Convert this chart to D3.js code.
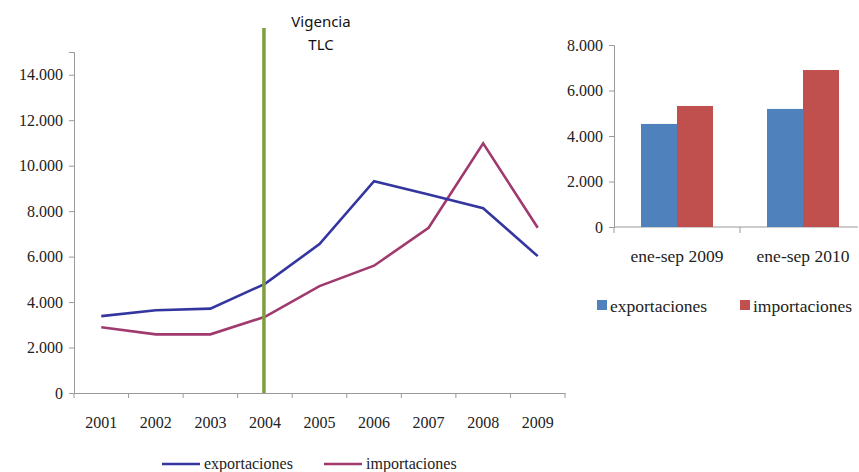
<!DOCTYPE html>
<html>
<head>
<meta charset="utf-8">
<script src="https://cdn.jsdelivr.net/npm/d3@7"></script>
<style>
  body { margin: 0; background: #fff; }
  svg { display: block; }
  .serif { font-family: "Liberation Serif"; font-size: 16px; }
  .serif-lg { font-family: "Liberation Serif"; font-size: 17.5px; }
  .sans { font-family: "Noto Sans"; font-size: 15px; }
</style>
</head>
<body>
<div id="chart"></div>
<script>
// line chart data
const years = ['2001', '2002', '2003', '2004', '2005', '2006', '2007', '2008', '2009'];
const exportaciones = [3380, 3640, 3710, 4800, 6550, 9320, 8730, 8130, 6020];
const importaciones = [2890, 2580, 2580, 3350, 4700, 5600, 7270, 10980, 7270];
const lineTicks = [0, 2000, 4000, 6000, 8000, 10000, 12000, 14000];
const markerYear = '2004';

// bar chart data
const periods = ['ene-sep 2009', 'ene-sep 2010'];
const barExport = [4530, 5190];
const barImport = [5320, 6900];
const barTicks = [0, 2000, 4000, 6000, 8000];

const W = 859, H = 472;
const fmt = d => d3.format(',')(d).replace(/,/g, '.');
const axisColor = '#9a9a9a';

const svg = d3.select('#chart').append('svg')
    .attr('width', W).attr('height', H);

// ---- left: line chart ----
const lx = d3.scaleBand().domain(years).range([74, 565]);
const ly = d3.scaleLinear().domain([0, 15000]).range([393, 52]);

const gLeft = svg.append('g');

const yAxisL = gLeft.append('g')
    .attr('transform', 'translate(74,0)')
    .call(d3.axisLeft(ly).tickValues(lineTicks).tickSize(5).tickPadding(6).tickFormat(fmt));

const xAxisL = gLeft.append('g')
    .attr('transform', 'translate(0,393)')
    .call(d3.axisBottom(lx).tickSize(0).tickPadding(24));

// category boundary ticks
xAxisL.selectAll('.bound').data(d3.range(years.length + 1)).enter().append('line')
    .attr('class', 'bound')
    .attr('x1', i => lx.range()[0] + i * lx.step())
    .attr('x2', i => lx.range()[0] + i * lx.step())
    .attr('y1', 0).attr('y2', 5)
    .attr('stroke', axisColor);

function styleAxis(a) {
    a.attr('font-family', null).attr('font-size', null);
    a.select('.domain').attr('stroke', axisColor);
    a.selectAll('.tick line').attr('stroke', axisColor);
    a.selectAll('.tick text').attr('class', 'serif').attr('fill', '#222');
}
styleAxis(yAxisL);
styleAxis(xAxisL);

const line = d3.line()
    .x((d, i) => lx(years[i]) + lx.bandwidth() / 2)
    .y(d => ly(d));

gLeft.append('path').datum(importaciones)
    .attr('d', line).attr('fill', 'none')
    .attr('stroke', '#a03a6e').attr('stroke-width', 2.6);

gLeft.append('path').datum(exportaciones)
    .attr('d', line).attr('fill', 'none')
    .attr('stroke', '#3436a0').attr('stroke-width', 2.6);

// TLC marker line
const mx = lx(markerYear) + lx.bandwidth() / 2 - 1;
gLeft.append('line')
    .attr('x1', mx).attr('x2', mx)
    .attr('y1', 28).attr('y2', 393)
    .attr('stroke', '#7f9e3e').attr('stroke-width', 3.5);

gLeft.selectAll('.tlc').data(['Vigencia', 'TLC']).enter().append('text')
    .attr('class', 'sans')
    .attr('x', 321).attr('y', (d, i) => 27 + i * 23)
    .attr('text-anchor', 'middle')
    .attr('fill', '#111')
    .text(d => d);

// line legend
const lineLegend = [
    { name: 'exportaciones', color: '#3436a0', x: 162 },
    { name: 'importaciones', color: '#a03a6e', x: 324 }
];
const ll = gLeft.selectAll('.ll').data(lineLegend).enter().append('g')
    .attr('transform', d => `translate(${d.x},464)`);
ll.append('line').attr('x1', 0).attr('x2', 38).attr('y1', 0).attr('y2', 0)
    .attr('stroke', d => d.color).attr('stroke-width', 2.6);
ll.append('text').attr('class', 'serif').attr('x', 42).attr('y', 5)
    .attr('fill', '#222')
    .text(d => d.name);

// ---- right: bar chart ----
const bx = d3.scaleBand().domain(periods).range([614, 866]);
const bsub = d3.scaleBand().domain(['exp', 'imp']).range([27, 99]);
const by = d3.scaleLinear().domain([0, 8000]).range([227, 45]);

const gRight = svg.append('g');

const yAxisR = gRight.append('g')
    .attr('transform', 'translate(614,0)')
    .call(d3.axisLeft(by).tickValues(barTicks).tickSize(5).tickPadding(6).tickFormat(fmt));

const xAxisR = gRight.append('g')
    .attr('transform', 'translate(0,227)')
    .call(d3.axisBottom(bx).tickSize(0).tickPadding(23));
xAxisR.select('.domain').attr('d', 'M614,0H858');
xAxisR.selectAll('.bound').data([0, 1, 2]).enter().append('line')
    .attr('x1', d => 614 + d * bx.step()).attr('x2', d => 614 + d * bx.step())
    .attr('y1', 0).attr('y2', 6).attr('stroke', axisColor);

styleAxis(yAxisR);
styleAxis(xAxisR);
xAxisR.selectAll('.tick text').attr('class', 'serif-lg');

const groups = gRight.selectAll('.grp').data(periods).enter().append('g')
    .attr('transform', d => `translate(${bx(d)},0)`);
groups.append('rect')
    .attr('x', bsub('exp')).attr('width', bsub.bandwidth())
    .attr('y', (d, i) => by(barExport[i]))
    .attr('height', (d, i) => by(0) - by(barExport[i]))
    .attr('fill', '#4f81bd');
groups.append('rect')
    .attr('x', bsub('imp')).attr('width', bsub.bandwidth())
    .attr('y', (d, i) => by(barImport[i]))
    .attr('height', (d, i) => by(0) - by(barImport[i]))
    .attr('fill', '#c0504d');

const barLegend = [
    { name: 'exportaciones', color: '#4f81bd', x: 597 },
    { name: 'importaciones', color: '#c0504d', x: 740 }
];
const bl = gRight.selectAll('.bl').data(barLegend).enter().append('g')
    .attr('transform', d => `translate(${d.x},300)`);
bl.append('rect').attr('width', 10).attr('height', 10).attr('fill', d => d.color);
bl.append('text').attr('class', 'serif-lg').attr('x', 13).attr('y', 12)
    .attr('fill', '#222')
    .text(d => d.name);
</script>
</body>
</html>
